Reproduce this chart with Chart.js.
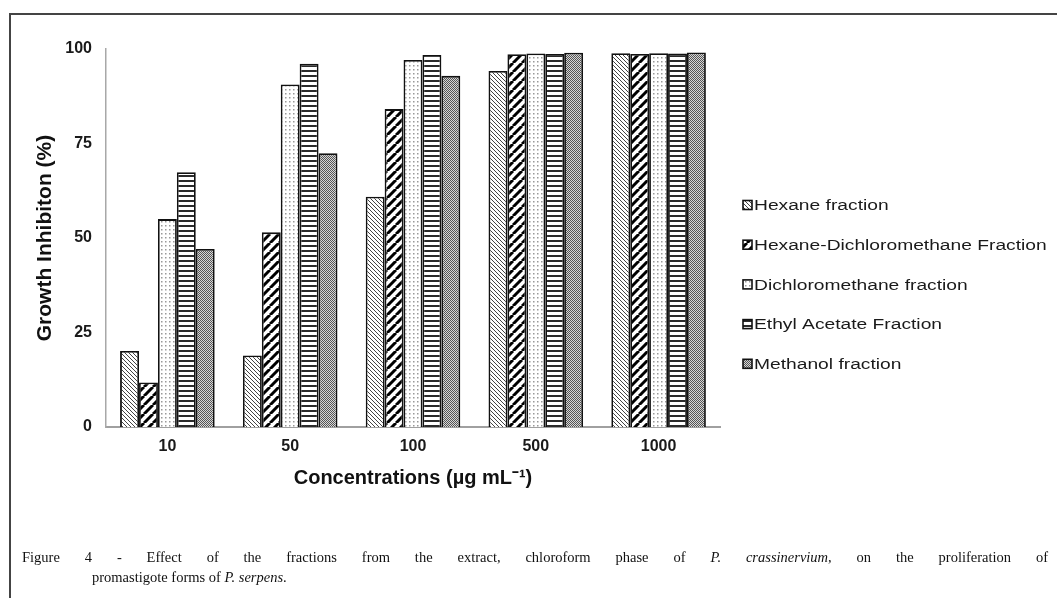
<!DOCTYPE html>
<html>
<head>
<meta charset="utf-8">
<script src="https://cdn.jsdelivr.net/npm/chart.js@4"></script>
<style>
  html, body { margin: 0; padding: 0; background: #fff; }
  #page { position: relative; width: 1057px; height: 598px; overflow: hidden; }
  #chart { position: absolute; left: 0; top: 0; }
  .frame-top { position: absolute; left: 9px; top: 13px; width: 1048px; height: 2px; background: #444; }
  .frame-left { position: absolute; left: 9px; top: 13px; width: 2px; height: 585px; background: #444; }
  .caption { position: absolute; font-family: "Liberation Serif", "Times New Roman", serif; font-size: 14.5px; line-height: 20px; color: #111; white-space: nowrap; }
  #cap1 { left: 22px; top: 547px; width: 1026px; white-space: normal; text-align: justify; text-align-last: justify; }
  #cap2 { left: 92px; top: 567px; }
</style>
</head>
<body>
<div id="page">
  <canvas id="chart" width="1057" height="598"></canvas>
  <div class="frame-top"></div>
  <div class="frame-left"></div>
  <div class="caption" id="cap1">Figure 4 - Effect of the fractions from the extract, chloroform phase of <i>P. crassinervium</i>, on the proliferation of</div>
  <div class="caption" id="cap2">promastigote forms of <i>P. serpens</i>.</div>
</div>
<script>
// data
var concentrations = ['10', '50', '100', '500', '1000'];
var seriesNames = [
  'Hexane fraction',
  'Hexane-Dichloromethane Fraction',
  'Dichloromethane fraction',
  'Ethyl Acetate Fraction',
  'Methanol fraction'
];
var hexane = [20.1, 18.9, 60.9, 94.2, 98.9];
var hexaneDcm = [11.8, 51.5, 84.1, 98.6, 98.7];
var dcm = [55.0, 90.6, 97.1, 98.8, 98.9];
var ethylAcetate = [67.4, 96.1, 98.4, 98.7, 98.8];
var methanol = [47.1, 72.4, 92.9, 99.0, 99.1];
var yTicks = [0, 25, 50, 75, 100];

// build the fill patterns
function makePattern(w, h, draw) {
  var c = document.createElement('canvas');
  c.width = w;
  c.height = h;
  var g = c.getContext('2d');
  g.fillStyle = '#fff';
  g.fillRect(0, 0, w, h);
  draw(g, w, h);
  return g.createPattern(c, 'repeat');
}

var patHexane = makePattern(4, 4, function(g, s) {
  g.strokeStyle = '#444';
  g.lineWidth = 1;
  for (var k = -1; k <= 1; k++) {
    g.beginPath();
    g.moveTo(k * s, 0);
    g.lineTo(k * s + s, s);
    g.stroke();
  }
});
var patHexDcm = makePattern(9, 9, function(g, s) {
  g.strokeStyle = '#000';
  g.lineWidth = 3;
  for (var k = -1; k <= 1; k++) {
    g.beginPath();
    g.moveTo(k * s + s, 0);
    g.lineTo(k * s, s);
    g.stroke();
  }
});
var patDcm = makePattern(4, 4, function(g) {
  g.fillStyle = '#999';
  g.fillRect(1, 1, 1.5, 1.5);
});
var patEthyl = makePattern(4, 5, function(g, w) {
  g.fillStyle = '#2a2a2a';
  g.fillRect(0, 0, w, 2);
});
var patMethanol = makePattern(2, 2, function(g) {
  g.fillStyle = '#d6d6d6';
  g.fillRect(0, 0, 2, 2);
  g.fillStyle = '#555';
  g.fillRect(0, 0, 1, 1);
  g.fillRect(1, 1, 1, 1);
});

var fills = [patHexane, patHexDcm, patDcm, patEthyl, patMethanol];
var values = [hexane, hexaneDcm, dcm, ethylAcetate, methanol];

var datasets = seriesNames.map(function(name, i) {
  return {
    label: name,
    data: values[i],
    backgroundColor: fills[i],
    borderColor: '#111',
    borderWidth: 1.8,
    categoryPercentage: 0.77,
    barPercentage: 1.0
  };
});

// legend drawn on the canvas, looks like the office-style legend of the figure
var sideLegend = {
  id: 'sideLegend',
  afterDraw: function(chart, args, opts) {
    var ctx = chart.ctx;
    ctx.save();
    chart.data.datasets.forEach(function(ds, i) {
      var y = opts.top + i * opts.step;
      ctx.fillStyle = ds.backgroundColor;
      ctx.fillRect(opts.left, y - 4.5, 9, 9);
      ctx.strokeStyle = '#111';
      ctx.lineWidth = 1.6;
      ctx.strokeRect(opts.left, y - 4.5, 9, 9);
      ctx.save();
      ctx.translate(opts.left + 11, y);
      ctx.scale(opts.stretch, 1);
      ctx.fillStyle = '#1a1a1a';
      ctx.font = '15.5px "Liberation Sans", Arial, sans-serif';
      ctx.textBaseline = 'middle';
      ctx.fillText(ds.label, 0, 1);
      ctx.restore();
    });
    ctx.restore();
  }
};

var ctx = document.getElementById('chart').getContext('2d');
var chart = new Chart(ctx, {
  type: 'bar',
  data: {
    labels: concentrations,
    datasets: datasets
  },
  options: {
    responsive: false,
    animation: false,
    layout: {
      padding: { top: 49, right: 337, bottom: 0, left: 0 }
    },
    plugins: {
      legend: { display: false },
      tooltip: { enabled: false },
      sideLegend: { left: 743, top: 205, step: 39.7, stretch: 1.24 }
    },
    scales: {
      x: {
        grid: { display: false, drawTicks: false },
        border: { display: true, color: '#a0a0a0', width: 2 },
        ticks: {
          color: '#1a1a1a',
          padding: 10,
          font: { family: '"Liberation Sans", Arial, sans-serif', size: 16, weight: 'bold' }
        },
        title: {
          display: true,
          text: 'Concentrations (µg mL⁻¹)',
          color: '#111',
          font: { family: '"Liberation Sans", Arial, sans-serif', size: 20, weight: 'bold' },
          padding: { top: 0, bottom: 108 }
        },
        afterFit: function(scale) { scale.height = 171; }
      },
      y: {
        min: 0,
        max: 100,
        grid: { display: false, drawTicks: false },
        border: { display: true, color: '#a8a8a8', width: 1.5 },
        afterBuildTicks: function(scale) {
          scale.ticks = yTicks.map(function(v) { return { value: v }; });
        },
        ticks: {
          color: '#1a1a1a',
          padding: 14,
          font: { family: '"Liberation Sans", Arial, sans-serif', size: 16, weight: 'bold' }
        },
        title: {
          display: true,
          text: 'Growth Inhibiton (%)',
          color: '#111',
          font: { family: '"Liberation Sans", Arial, sans-serif', size: 21, weight: 'bold' },
          padding: { top: 33, bottom: 0 }
        },
        afterFit: function(scale) { scale.width = 106; }
      }
    }
  },
  plugins: [sideLegend]
});
</script>
</body>
</html>
